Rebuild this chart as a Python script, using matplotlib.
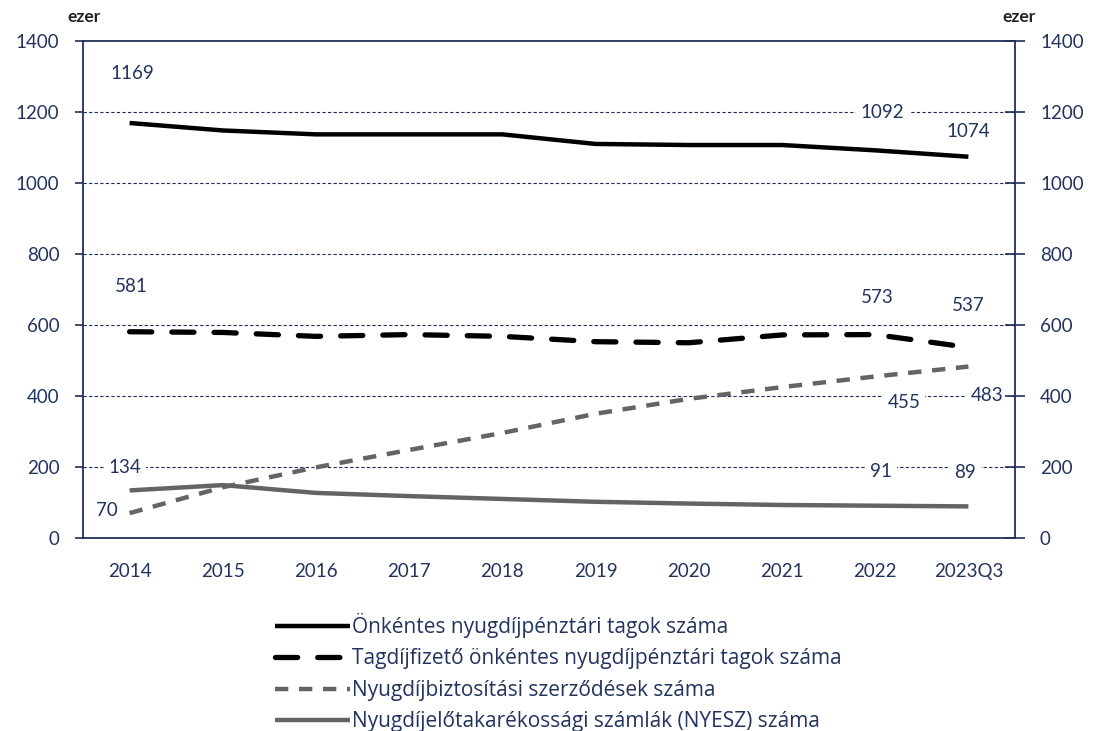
import matplotlib
matplotlib.use("Agg")
import matplotlib.pyplot as plt

categories = ["2014", "2015", "2016", "2017", "2018", "2019", "2020", "2021", "2022", "2023Q3"]
onkentes_tagok = [1169, 1148, 1137, 1137, 1137, 1110, 1107, 1107, 1092, 1074]
tagdijfizeto = [581, 579, 568, 573, 568, 553, 550, 572, 573, 537]
nyugdijbiztositas = [70, 143, 199, 248, 296, 350, 392, 425, 455, 483]
nyesz = [134, 149, 127, 118, 110, 102, 97, 93, 91, 89]
yticks = [0, 200, 400, 600, 800, 1000, 1200, 1400]
series_names = [
    "Önkéntes nyugdíjpénztári tagok száma",
    "Tagdíjfizető önkéntes nyugdíjpénztári tagok száma",
    "Nyugdíjbiztosítási szerződések száma",
    "Nyugdíjelőtakarékossági számlák (NYESZ) száma",
]

NAVY = "#1F2F5A"
TXT = "#22335E"
GREY = "#646464"
plt.rcParams["font.family"] = ["Lato", "DejaVu Sans"]

fig = plt.figure(figsize=(10.94, 7.31), dpi=100)
ax = fig.add_axes([83/1094, 1-538/731, (1015-83)/1094, (538-41)/731])
x = list(range(len(categories)))

l1, = ax.plot(x, onkentes_tagok, color="black", lw=3.2, solid_capstyle="butt", zorder=5)
l2, = ax.plot(x, tagdijfizeto, color="black", lw=3.8, dashes=(4.2, 3.8),
              dash_capstyle="round", zorder=5)
l3, = ax.plot(x, nyugdijbiztositas, color=GREY, lw=3.2, dashes=(3.0, 2.4),
              dash_capstyle="butt", zorder=4)
l4, = ax.plot(x, nyesz, color=GREY, lw=3.2, solid_capstyle="butt", zorder=4)

ax.set_xlim(-0.5, len(categories) - 0.5)
ax.set_ylim(0, 1400)
ax.set_yticks(yticks)
ax.set_xticks(x)
ax.set_xticklabels(categories)
for v in yticks[1:-1]:
    ax.axhline(v, color=NAVY, lw=0.8, ls=(0, (3, 2)), zorder=1)

for s in ax.spines.values():
    s.set_color(NAVY)
    s.set_linewidth(1.3)

ax.tick_params(axis="y", colors=NAVY, labelcolor=TXT, labelsize=13.5,
               direction="out", length=6, width=1.2, pad=11)
ax.tick_params(axis="x", length=0, labelcolor=TXT, labelsize=13.5, pad=18)

ax2 = ax.twinx()
ax2.set_ylim(0, 1400)
ax2.set_yticks(yticks)
for s in ax2.spines.values():
    s.set_visible(False)
ax2.tick_params(axis="y", colors=NAVY, labelcolor=TXT, labelsize=13.5,
                direction="inout", length=14, width=1.2, pad=11)

# "ezer" unit labels
fig.text(84/1094, 1-17/731, "ezer", ha="center", va="center", fontsize=12.5,
         fontweight="bold", color="#222222")
fig.text(1019/1094, 1-17/731, "ezer", ha="center", va="center", fontsize=12.5,
         fontweight="bold", color="#222222")

bbox = dict(boxstyle="square,pad=0.25", fc="white", ec="none")

def label(series, idx, dx, dy):
    ax.annotate(str(series[idx]), xy=(idx, series[idx]), xytext=(dx, dy),
                textcoords="offset pixels", ha="center", va="center",
                fontsize=13.5, color=TXT, bbox=bbox, zorder=6)

label(onkentes_tagok, 0, 3, 50)
label(onkentes_tagok, 8, 7, 38)
label(onkentes_tagok, 9, 0, 25)
label(tagdijfizeto, 0, 2, 45)
label(tagdijfizeto, 8, 2, 37)
label(tagdijfizeto, 9, 0, 42)
label(nyugdijbiztositas, 8, 29, -26)
label(nyugdijbiztositas, 9, 19, -29)
label(nyugdijbiztositas, 0, -23, 3)
label(nyesz, 0, -5, 23)
label(nyesz, 8, 6, 34)
label(nyesz, 9, -3, 34)

leg = fig.legend([l1, l2, l3, l4], series_names, loc="upper left",
                 bbox_to_anchor=(275/1094, 1-613/731), frameon=False,
                 prop={"family": ["Open Sans", "DejaVu Sans"], "size": 15},
                 handlelength=3.6, handletextpad=0.1,
                 labelspacing=0.5, borderpad=0, borderaxespad=0)
for t in leg.get_texts():
    t.set_color(TXT)

fig.savefig("out.png", dpi=100)
